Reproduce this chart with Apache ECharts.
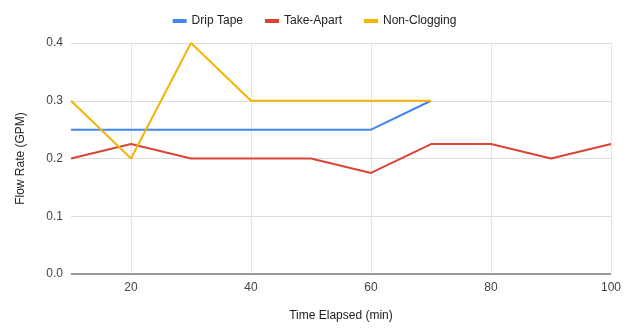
<!DOCTYPE html>
<html><head><meta charset="utf-8">
<script src="https://cdn.jsdelivr.net/npm/echarts@6/dist/echarts.min.js"></script>
<style>html,body{margin:0;padding:0;background:#fff}#c{width:629px;height:329px}</style>
</head><body><div id="c"></div>
<script>
const times = [10, 20, 30, 40, 50, 60, 70, 80, 90, 100];
const xTicks = [20, 40, 60, 80, 100];
const dripTape = [0.25, 0.25, 0.25, 0.25, 0.25, 0.25, 0.3];
const takeApart = [0.2, 0.225, 0.2, 0.2, 0.2, 0.175, 0.225, 0.225, 0.2, 0.225];
const nonClogging = [0.3, 0.2, 0.4, 0.3, 0.3, 0.3, 0.3];
const seriesNames = ['Drip Tape', 'Take-Apart', 'Non-Clogging'];
const colors = ['#4285F4', '#DB4437', '#F4B400'];
const pair = arr => arr.map((v, i) => [times[i], v]);
const chart = echarts.init(document.getElementById('c'));
const font = 'Liberation Sans, Arial, sans-serif';
chart.setOption({
  animation: false,
  color: colors,
  textStyle: {fontFamily: font},
  legend: {
    top: 10, left: 'center', itemWidth: 14, itemHeight: 4, itemGap: 22,
    icon: 'rect',
    textStyle: {fontSize: 12, color: '#222', fontFamily: font},
    data: seriesNames
  },
  grid: {left: 71, right: 18, top: 43, bottom: 55},
  xAxis: {
    type: 'value', min: 10, max: 100,
    name: 'Time Elapsed (min)', nameLocation: 'middle', nameGap: 36,
    nameTextStyle: {fontSize: 12, color: '#222'},
    axisLine: {show: false},
    axisTick: {show: false, customValues: xTicks},
    axisLabel: {fontSize: 12, color: '#444', customValues: xTicks, hideOverlap: false},
    splitLine: {show: true, lineStyle: {color: '#e4e4e4'}}
  },
  yAxis: {
    type: 'value', min: 0, max: 0.4, interval: 0.1,
    name: 'Flow Rate (GPM)', nameLocation: 'middle', nameGap: 44,
    nameTextStyle: {fontSize: 12, color: '#222'},
    axisLine: {show: false}, axisTick: {show: false},
    axisLabel: {fontSize: 12, color: '#444', formatter: v => v.toFixed(1)},
    splitLine: {lineStyle: {color: '#dcdcdc'}}
  },
  series: [
    {name: seriesNames[0], type: 'line', data: pair(dripTape), symbol: 'none', lineStyle: {width: 2}},
    {name: seriesNames[1], type: 'line', data: pair(takeApart), symbol: 'none', lineStyle: {width: 2}},
    {name: seriesNames[2], type: 'line', data: pair(nonClogging), symbol: 'none', lineStyle: {width: 2}},
    {type: 'line', data: [[10, 0], [100, 0]], symbol: 'none', silent: true,
     lineStyle: {color: '#999', width: 2}, tooltip: {show: false}}
  ]
});
</script></body></html>
